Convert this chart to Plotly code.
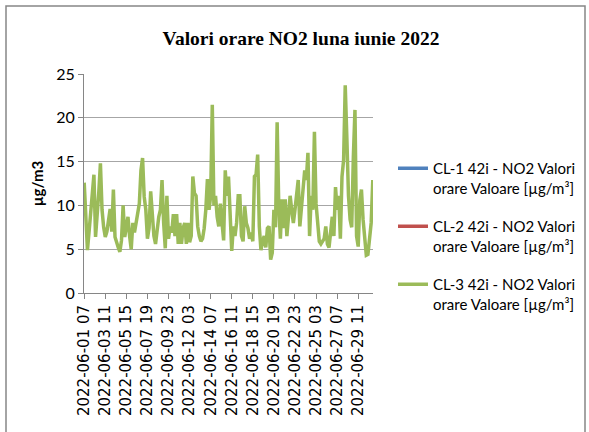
import pandas as pd
import plotly.graph_objects as go

# ---- data -------------------------------------------------------------
start_time = "2022-06-01 07:00"
step = "4h"

cl3_values = [
    12.6, 8.5, 4.9, 7.0, 9.0, 11.5, 13.5, 6.4, 8.7, 11.5,
    14.8, 9.5, 7.5, 6.4, 7.0, 8.7, 9.6, 7.0, 11.8, 6.4,
    5.7, 5.2, 4.7, 6.0, 10.0, 6.4, 7.5, 8.7, 6.5, 5.0,
    8.0, 6.9, 8.0, 9.5, 10.2, 14.0, 15.4, 11.0, 9.5, 6.2,
    7.4, 11.6, 9.5, 6.5, 5.6, 7.4, 8.7, 9.5, 12.9, 8.0,
    5.1, 11.1, 6.2, 7.6, 6.9, 9.0, 6.5, 9.0, 5.6, 8.0,
    5.6, 7.4, 8.0, 5.6, 8.0, 5.8, 6.5, 13.3, 11.4, 11.1,
    7.6, 6.5, 5.9, 6.2, 7.4, 9.5, 13.0, 9.5, 11.1, 21.5,
    10.0, 11.1, 8.7, 7.6, 10.2, 8.0, 6.0, 14.0, 11.1, 13.3,
    8.7, 4.8, 7.6, 6.5, 8.0, 11.1, 11.1, 6.5, 5.9, 9.9,
    8.0, 7.4, 6.2, 6.9, 5.9, 13.3, 13.5, 15.8, 7.6, 4.9,
    5.9, 6.5, 5.2, 7.4, 7.6, 3.8, 4.6, 9.5, 7.5, 19.5,
    10.0, 6.2, 10.7, 7.4, 10.7, 6.5, 8.7, 11.1, 9.5, 8.0,
    9.5, 11.8, 12.9, 7.6, 10.2, 12.1, 14.0, 12.9, 16.0, 6.5,
    11.1, 9.5, 18.4, 10.2, 7.6, 5.9, 5.6, 5.9, 6.2, 7.6,
    5.6, 5.2, 7.4, 8.7, 6.5, 12.1, 9.5, 11.1, 6.2, 13.3,
    15.2, 23.7, 17.7, 11.1, 8.4, 7.5, 15.5, 20.9, 6.5, 5.3,
    10.6, 11.8, 8.4, 6.5, 4.3, 4.4, 6.5, 8.0, 12.9,
]
cl1_values = [None] * len(cl3_values)
cl2_values = [None] * len(cl3_values)

series_names = [
    "CL-1 42i - NO2 Valori<br>orare Valoare [µg/m³]",
    "CL-2 42i - NO2 Valori<br>orare Valoare [µg/m³]",
    "CL-3 42i - NO2 Valori<br>orare Valoare [µg/m³]",
]
series_colors = ["#4F81BD", "#C0504D", "#9BBB59"]

tick_labels = [
    "2022-06-01 07", "2022-06-03 11", "2022-06-05 15", "2022-06-07 19",
    "2022-06-09 23", "2022-06-12 03", "2022-06-14 07", "2022-06-16 11",
    "2022-06-18 15", "2022-06-20 19", "2022-06-22 23", "2022-06-25 03",
    "2022-06-27 07", "2022-06-29 11",
]
y_ticks = [0, 5, 10, 15, 20, 25]

# ---- figure -----------------------------------------------------------
times = pd.date_range(start_time, periods=len(cl3_values), freq=step)
tick_vals = [pd.to_datetime(t, format="%Y-%m-%d %H") for t in tick_labels]

fig = go.Figure()
for name, vals, col in zip(series_names, [cl1_values, cl2_values, cl3_values], series_colors):
    fig.add_trace(go.Scatter(
        x=times, y=vals, mode="lines", name=name,
        line=dict(color=col, width=3.5), legendgroup=name,
    ))

x0 = times[0] - pd.Timedelta(minutes=30)
x1 = pd.Timestamp("2022-06-30 23:30")

W, H = 589, 432
L, R, T, B = 84, 373, 74, 293

fig.update_layout(
    width=W, height=H,
    margin=dict(l=L, r=W - R, t=T, b=H - B, autoexpand=False),
    paper_bgcolor="white", plot_bgcolor="white",
    title=dict(
        text="<b>Valori orare NO2 luna iunie 2022</b>",
        font=dict(family="Liberation Serif", size=19.5, color="black"),
        x=301 / W, xref="container", xanchor="center",
        y=(H - 38) / H, yref="container", yanchor="middle",
    ),
    xaxis=dict(
        type="date", range=[x0, x1],
        tickmode="array", tickvals=tick_vals, ticktext=tick_labels,
        tickangle=-90, tickfont=dict(family="DejaVu Sans", size=15, color="black"),
        showgrid=False, showline=True, linecolor="#868686", linewidth=1,
        ticks="outside", ticklen=5, tickcolor="#868686",
        zeroline=False,
    ),
    yaxis=dict(
        range=[0, 25], tickmode="array", tickvals=y_ticks,
        tickfont=dict(family="Lato", size=16, color="black"),
        showgrid=True, gridcolor="#a6a6a6", gridwidth=1,
        showline=True, linecolor="#868686", linewidth=1,
        ticks="outside", ticklen=5, tickcolor="#868686",
        zeroline=False,
        title=dict(text="<b>µg/m3</b>", font=dict(family="Lato", size=15, color="black"), standoff=8),
    ),
    legend=dict(
        x=393 / W, xref="container", xanchor="left",
        y=(H - 152) / H, yref="container", yanchor="top",
        font=dict(family="Lato", size=15, color="black"),
        valign="top", tracegroupgap=16,
        bgcolor="rgba(0,0,0,0)",
    ),
    showlegend=True,
    shapes=[dict(
        type="rect", xref="paper", yref="paper",
        x0=(6 - L) / (R - L), x1=(585 - L) / (R - L),
        y0=(B - 440) / (B - T), y1=(B - 6) / (B - T),
        line=dict(color="#868686", width=1.5), layer="below",
    )],
)

fig.write_html(
    "out.html",
    config={"displayModeBar": False},
    post_script="document.body.style.margin='0px';",
)
